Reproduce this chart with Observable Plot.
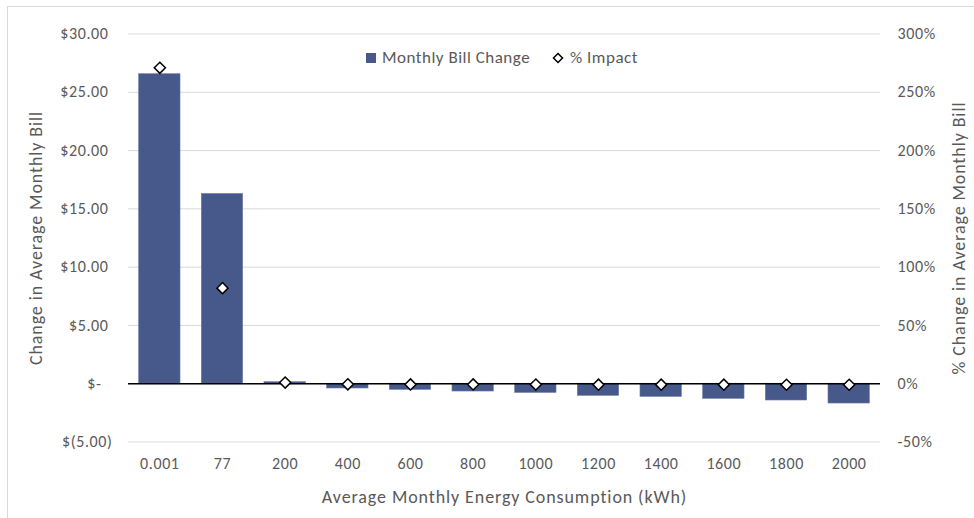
<!DOCTYPE html>
<html>
<head>
<meta charset="utf-8">
<script src="https://cdn.jsdelivr.net/npm/d3@7"></script>
<script src="https://cdn.jsdelivr.net/npm/@observablehq/plot@0.6"></script>
<style>
  html, body { margin: 0; padding: 0; background: #fff; }
  #chart { position: relative; width: 974px; height: 518px; overflow: hidden; font-family: Carlito, Calibri, Lato, sans-serif; }
  #frame { position: absolute; left: 7px; top: 6px; width: 1000px; height: 600px; border: 1px solid #d9d9d9; box-sizing: border-box; }
  #legend { position: absolute; top: 47px; left: 0; width: 974px; display: flex; justify-content: center; gap: 22px; font-size: 17px; letter-spacing: 0.5px; color: #595959; padding-left: 30px; box-sizing: border-box; }
  #legend span.item { display: inline-flex; align-items: center; gap: 6px; }
  #legend .swatch { width: 10px; height: 10px; background: #47598a; display: inline-block; }
  #legend svg { display: inline-block; }
  #chart svg text { fill: #595959; }
  #chart svg [aria-label$="tick label"] text { font-size: 16px; letter-spacing: 0.6px; }
  #chart svg [aria-label$="axis label"] text { font-size: 18px; letter-spacing: 0.9px; }
</style>
</head>
<body>
<div id="chart">
  <div id="frame"></div>
</div>
<script>
// Average monthly consumption buckets (kWh)
const categories = ["0.001", "77", "200", "400", "600", "800", "1000", "1200", "1400", "1600", "1800", "2000"];
// Change in average monthly bill ($)
const billChange = [26.55, 16.28, 0.13, -0.41, -0.53, -0.67, -0.79, -1.04, -1.13, -1.30, -1.44, -1.70];
// Percent change in average monthly bill (%)
const pctImpact = [271, 82, 1, -0.5, -0.6, -0.6, -0.7, -0.8, -0.8, -0.8, -0.9, -0.9];
// Axis ticks
const dollarTicks = [-5, 0, 5, 10, 15, 20, 25, 30];
const pctTicks = [-50, 0, 50, 100, 150, 200, 250, 300];

const rows = categories.map((c, i) => ({kwh: c, bill: billChange[i], pct: pctImpact[i]}));

// The percent series shares the dollar scale: 300% lines up with $30.00
const pctToY = (p) => p / 10;

// Accounting-style dollar labels: "$-" for zero, parentheses for negatives
const fmtDollar = (d) => d === 0 ? "$-" : d < 0 ? `$(${(-d).toFixed(2)})` : `$${d.toFixed(2)}`;
const leftAxis = (ticks, pad, extra = {}) => Plot.axisY(ticks, {anchor: "left", tickSize: 0, tickPadding: pad, tickFormat: fmtDollar, label: null, ...extra});

const plot = Plot.plot({
  width: 974,
  height: 518,
  marginLeft: 128,
  marginRight: 94,
  marginTop: 33.5,
  marginBottom: 76.5,
  style: {fontFamily: "Carlito, Calibri, Lato, sans-serif", fontSize: "16px", color: "#595959", background: "transparent", overflow: "visible"},
  x: {type: "band", domain: categories, paddingInner: 0.34, paddingOuter: 0.17, round: false},
  y: {domain: [-5, 30]},
  marks: [
    Plot.gridY(dollarTicks, {stroke: "#d9d9d9", strokeOpacity: 1, strokeWidth: 1}),
    Plot.barY(rows, {x: "kwh", y: "bill", fill: "#47598a", stroke: "#6b7ba6", strokeWidth: 0.6}),
    Plot.ruleY([0], {stroke: "#000", strokeWidth: 1.5}),
    Plot.dot(rows, {x: "kwh", y: (d) => pctToY(d.pct), symbol: "diamond2", r: 5, fill: "#fff", stroke: "#000", strokeWidth: 1.5}),
    leftAxis(dollarTicks.filter((d) => d > 0), 20,
      {label: "Change in Average Monthly Bill", labelAnchor: "center", labelArrow: "none", labelOffset: 99}),
    leftAxis(dollarTicks.filter((d) => d === 0), 27),
    leftAxis(dollarTicks.filter((d) => d < 0), 16),
    Plot.axisY(pctTicks.map(pctToY), {anchor: "right", tickSize: 0, tickPadding: 17, tickFormat: (d) => `${Math.round(d * 10)}%`,
      label: "% Change in Average Monthly Bill", labelAnchor: "center", labelArrow: "none", labelOffset: 84}),
    Plot.axisX({anchor: "bottom", tickSize: 0, tickPadding: 16,
      label: "Average Monthly Energy Consumption (kWh)", labelAnchor: "center", labelArrow: "none", labelOffset: 61})
  ]
});
document.getElementById("chart").appendChild(plot);

// Legend
const legend = document.createElement("div");
legend.id = "legend";
legend.innerHTML = `
  <span class="item"><span class="swatch"></span>Monthly Bill Change</span>
  <span class="item"><svg width="12" height="12" viewBox="-6 -6 12 12"><path d="M0,-4.5L4.5,0L0,4.5L-4.5,0Z" fill="#fff" stroke="#000" stroke-width="1.5"/></svg>% Impact</span>`;
document.getElementById("chart").appendChild(legend);
</script>
</body>
</html>
